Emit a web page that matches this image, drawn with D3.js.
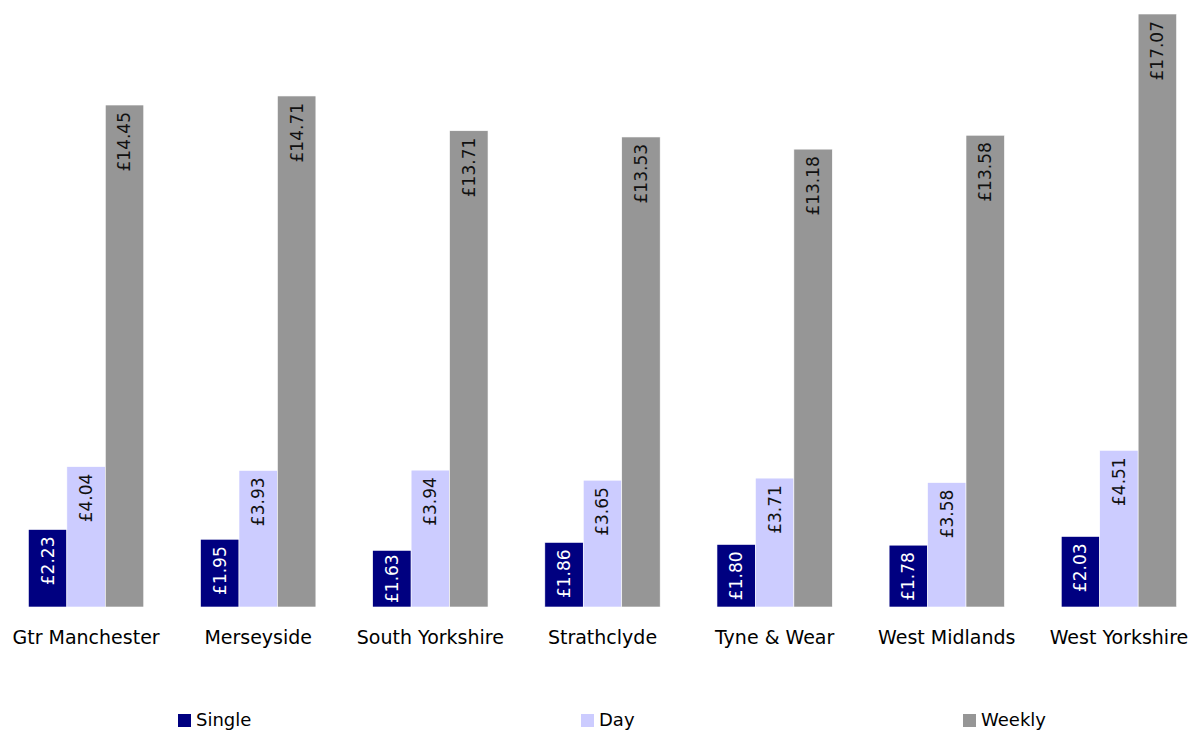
<!DOCTYPE html>
<html>
<head>
<meta charset="utf-8">
<script src="https://cdn.jsdelivr.net/npm/d3@7"></script>
<style>
  html, body { margin: 0; padding: 0; background: #fff; }
  svg text { font-family: Verdana, "DejaVu Sans", sans-serif; }
</style>
</head>
<body>
<svg id="chart" width="1195" height="731"></svg>
<script>
// Fare prices by area and ticket type
const regions = ["Gtr Manchester", "Merseyside", "South Yorkshire", "Strathclyde", "Tyne & Wear", "West Midlands", "West Yorkshire"];
const seriesNames = ["Single", "Day", "Weekly"];
const singleFares = [2.23, 1.95, 1.63, 1.86, 1.80, 1.78, 2.03];
const dayFares = [4.04, 3.93, 3.94, 3.65, 3.71, 3.58, 4.51];
const weeklyFares = [14.45, 14.71, 13.71, 13.53, 13.18, 13.58, 17.07];
const colors = ["#000080", "#CCCCFF", "#969696"];
const labelColors = ["#ffffff", "#111111", "#111111"];

const seriesValues = [singleFares, dayFares, weeklyFares];
const rows = [];
regions.forEach((r, i) => {
  seriesNames.forEach((s, j) => rows.push({ region: r, series: s, si: j, value: seriesValues[j][i] }));
});

const svg = d3.select("#chart");

const x = d3.scaleBand().domain(regions).range([0, 1205]).paddingInner(0.33).paddingOuter(0.165);
const xs = d3.scaleBand().domain(seriesNames).range([0, x.bandwidth()]);
const y = d3.scaleLinear().domain([0, 17.07]).range([607, 14]);

const fmt = v => "£" + d3.format(".2f")(v);

const groups = svg.append("g").selectAll("g")
  .data(regions).join("g")
  .attr("transform", d => `translate(${x(d)},0)`);

groups.selectAll("rect")
  .data(d => rows.filter(r => r.region === d))
  .join("rect")
  .attr("x", d => xs(d.series))
  .attr("y", d => y(d.value))
  .attr("width", xs.bandwidth())
  .attr("height", d => y(0) - y(d.value))
  .attr("fill", d => colors[d.si])
  .attr("stroke", "#ffffff")
  .attr("stroke-width", 0.6);

// value labels, rotated, reading upward from inside the top of each bar;
// short bars push the label up so it stays inside the bar
groups.selectAll("text.val")
  .data(d => rows.filter(r => r.region === d))
  .join("text")
  .attr("class", "val")
  .attr("text-anchor", "end")
  .attr("dy", "0.35em")
  .attr("font-size", 17)
  .attr("fill", d => labelColors[d.si])
  .text(d => fmt(d.value))
  .each(function (d) {
    const len = this.getComputedTextLength();
    const h = y(0) - y(d.value);
    const off = Math.max(1, Math.min(7, h - len - 4));
    d3.select(this).attr("transform",
      `translate(${xs(d.series) + xs.bandwidth() / 2},${y(d.value) + off}) rotate(-90)`);
  });

// category axis labels
const xAxis = d3.axisBottom(x).tickSize(0).tickPadding(0);
const axisG = svg.append("g").attr("transform", "translate(0,631)").call(xAxis);
axisG.select(".domain").remove();
axisG.selectAll("text")
  .attr("font-size", 19)
  .attr("fill", "#000")
  .attr("dy", "0.66em")
  .style("font-family", "Verdana, 'DejaVu Sans', sans-serif");

// legend
const legendX = [178, 581, 963];
const legend = svg.append("g").selectAll("g")
  .data(seriesNames).join("g")
  .attr("transform", (d, i) => `translate(${legendX[i]},714)`);
legend.append("rect").attr("width", 13).attr("height", 13).attr("fill", (d, i) => colors[i]);
legend.append("text")
  .attr("x", 18).attr("y", 12)
  .attr("font-size", 18).attr("fill", "#000")
  .text(d => d);
</script>
</body>
</html>
